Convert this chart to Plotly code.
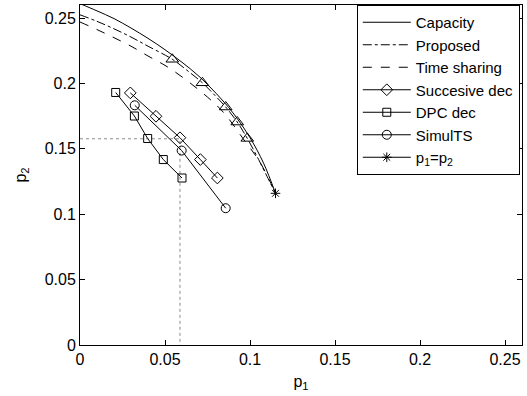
import plotly.graph_objects as go

# ---- data ----
cap_x = [0, 0.01, 0.02, 0.03, 0.04, 0.05, 0.06, 0.07, 0.08, 0.09, 0.1, 0.108, 0.115]
cap_y = [0.261, 0.2555, 0.2496, 0.2424, 0.2345, 0.2258, 0.2162, 0.2055, 0.1925, 0.1775, 0.1585, 0.139, 0.116]

prop_x = [0, 0.01, 0.02, 0.03, 0.04, 0.0543, 0.063, 0.072, 0.08, 0.0857, 0.0925, 0.0984, 0.105, 0.11, 0.115]
prop_y = [0.2525, 0.2475, 0.2418, 0.2355, 0.2285, 0.2185, 0.210, 0.2005, 0.190, 0.182, 0.1705, 0.158, 0.142, 0.129, 0.116]

ts_x = [0, 0.01, 0.02, 0.03, 0.04, 0.0529, 0.0725, 0.0843, 0.096, 0.1059, 0.115]
ts_y = [0.247, 0.2412, 0.2350, 0.2285, 0.2210, 0.2115, 0.1923, 0.178, 0.1577, 0.1397, 0.116]

tri_x = [0.0543, 0.072, 0.0857, 0.0925, 0.0984]
tri_y = [0.2185, 0.2005, 0.182, 0.1705, 0.158]

sd_x = [0.0296, 0.0447, 0.0588, 0.0708, 0.0808]
sd_y = [0.1928, 0.1749, 0.1585, 0.1418, 0.1277]

dpc_x = [0.021, 0.032, 0.0398, 0.049, 0.060]
dpc_y = [0.1931, 0.1751, 0.1579, 0.1418, 0.1277]

sim_x = [0.0322, 0.0598, 0.0857]
sim_y = [0.1833, 0.1487, 0.1046]

eq_x = [0.115]
eq_y = [0.116]

guide_x = [0, 0.0588, 0.0588]
guide_y = [0.1577, 0.1577, 0]

ticks = [0, 0.05, 0.1, 0.15, 0.2, 0.25]
tick_text = ["0", "0.05", "0.1", "0.15", "0.2", "0.25"]

FONT = "Liberation Sans, Arial, sans-serif"
FS = 16
LFS = 15

fig = go.Figure()

fig.add_trace(go.Scatter(x=guide_x, y=guide_y, mode="lines",
                         line=dict(color="rgb(140,140,140)", width=1, dash="dot"),
                         showlegend=False, hoverinfo="skip"))

fig.add_trace(go.Scatter(x=cap_x, y=cap_y, mode="lines", name="Capacity",
                         line=dict(color="black", width=1, shape="spline")))
fig.add_trace(go.Scatter(x=prop_x, y=prop_y, mode="lines", name="Proposed",
                         line=dict(color="black", width=1, dash="dashdot", shape="spline")))
fig.add_trace(go.Scatter(x=ts_x, y=ts_y, mode="lines", name="Time sharing",
                         line=dict(color="black", width=1, dash="dash", shape="spline")))
fig.add_trace(go.Scatter(x=tri_x, y=tri_y, mode="markers", showlegend=False,
                         marker=dict(symbol="triangle-up-open", size=11, color="black",
                                     line=dict(width=1, color="black"))))
fig.add_trace(go.Scatter(x=sd_x, y=sd_y, mode="lines+markers", name="Succesive dec",
                         line=dict(color="black", width=1),
                         marker=dict(symbol="diamond-open", size=9, color="black",
                                     line=dict(width=1, color="black"))))
fig.add_trace(go.Scatter(x=dpc_x, y=dpc_y, mode="lines+markers", name="DPC dec",
                         line=dict(color="black", width=1),
                         marker=dict(symbol="square-open", size=8, color="black",
                                     line=dict(width=1, color="black"))))
fig.add_trace(go.Scatter(x=sim_x, y=sim_y, mode="lines+markers", name="SimulTS",
                         line=dict(color="black", width=1),
                         marker=dict(symbol="circle-open", size=9, color="black",
                                     line=dict(width=1, color="black"))))
fig.add_trace(go.Scatter(x=eq_x, y=eq_y, mode="lines+markers", name="p<sub>1</sub>=p<sub>2</sub>",
                         line=dict(color="black", width=1),
                         marker=dict(symbol="asterisk-open", size=8, color="black",
                                     line=dict(width=1, color="black"))))

axis_common = dict(
    range=[0, 0.26], tickvals=ticks, ticktext=tick_text,
    showgrid=False, zeroline=False,
    showline=True, linecolor="black", linewidth=1, mirror="ticks",
    ticks="inside", ticklen=5, tickcolor="black", tickwidth=1,
    tickfont=dict(family=FONT, size=FS, color="black"),
)

fig.update_layout(
    width=527, height=396,
    margin=dict(l=80, r=5, t=5, b=51, autoexpand=False),
    paper_bgcolor="white", plot_bgcolor="white",
    font=dict(family=FONT, size=FS, color="black"),
    xaxis=dict(**axis_common, title=dict(text="p<sub>1</sub>", standoff=8,
                                         font=dict(family=FONT, size=FS))),
    yaxis=dict(**axis_common, title=dict(text="p<sub>2</sub>", standoff=14,
                                         font=dict(family=FONT, size=FS))),
    legend=dict(x=0.995, y=1.0, xanchor="right", yanchor="top",
                bgcolor="white", bordercolor="black", borderwidth=1,
                font=dict(family=FONT, size=LFS, color="black"),
                itemwidth=48, tracegroupgap=0),
    showlegend=True,
)

fig.write_html("out.html",
               config={"displayModeBar": False},
               post_script="document.body.style.margin='0';document.body.style.overflow='hidden';")
